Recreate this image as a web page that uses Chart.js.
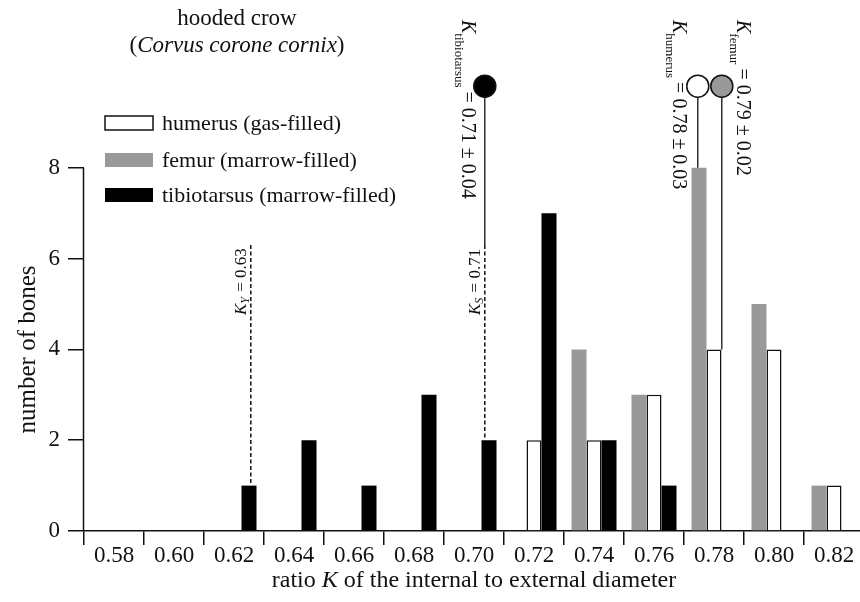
<!DOCTYPE html>
<html>
<head>
<meta charset="utf-8">
<script src="https://cdn.jsdelivr.net/npm/chart.js@4"></script>
<style>
  html, body { margin: 0; padding: 0; background: #fff; overflow: hidden; }
  #wrap { width: 864px; height: 602px; }
</style>
</head>
<body>
<div id="wrap"><canvas id="crow"></canvas></div>
<script>
// bins of the ratio K (internal / external diameter)
const binLabels = ["0.58", "0.60", "0.62", "0.64", "0.66", "0.68", "0.70", "0.72", "0.74", "0.76", "0.78", "0.80", "0.82"];
// number of bones per bin
const femurCounts = [0, 0, 0, 0, 0, 0, 0, 0, 4, 3, 8, 5, 1];
const humerusCounts = [0, 0, 0, 0, 0, 0, 0, 2, 2, 3, 4, 4, 1];
const tibiotarsusCounts = [0, 0, 1, 2, 1, 3, 2, 7, 2, 1, 0, 0, 0];
const yTicks = [0, 2, 4, 6, 8];

// mean K (± sd) per bone, and where the picture puts them on the bin axis
const meanNames = ["tibiotarsus", "humerus", "femur"];
const meanValues = ["0.71", "0.78", "0.79"];
const meanSds = ["0.04", "0.03", "0.02"];
const meanAt = [6.18, 9.73, 10.13];
// reference ratios K_Y and K_S
const refNames = ["Y", "S"];
const refValues = ["0.63", "0.71"];
const refAt = [2.28, 6.18];

const SERIF = "'Liberation Serif', 'Times New Roman', serif";
const f = (size, style) => (style ? style + " " : "") + size + "px " + SERIF;

function drawRuns(ctx, x, y, angle, runs) {
	ctx.save();
	ctx.translate(x, y);
	ctx.rotate(angle);
	ctx.textAlign = "left";
	ctx.textBaseline = "alphabetic";
	let cx = 0;
	for (const r of runs) {
		ctx.font = r.font;
		ctx.fillText(r.text, cx, r.dy || 0);
		cx += ctx.measureText(r.text).width + (r.gap || 0);
	}
	ctx.restore();
}

function runsWidth(ctx, runs) {
	let w = 0;
	for (const r of runs) {
		ctx.font = r.font;
		w += ctx.measureText(r.text).width + (r.gap || 0);
	}
	return w;
}

const overlay = {
	id: "overlay",
	afterDraw(chart) {
		const { ctx, chartArea, scales } = chart;
		const x = scales.x, y = scales.y;
		ctx.save();
		ctx.fillStyle = "#111";
		ctx.strokeStyle = "#111";

		// y axis line only from 0 to 8
		ctx.lineWidth = 1.5;
		ctx.beginPath();
		ctx.moveTo(chartArea.left - 0.5, y.getPixelForValue(0));
		ctx.lineTo(chartArea.left - 0.5, y.getPixelForValue(8));
		ctx.stroke();

		// title
		ctx.textAlign = "center";
		ctx.textBaseline = "middle";
		ctx.font = f(23);
		ctx.fillText("hooded crow", 237, 19);
		const sp = [
			{ text: "(", font: f(23) },
			{ text: "Corvus corone cornix", font: f(23, "italic") },
			{ text: ")", font: f(23) },
		];
		const spw = runsWidth(ctx, sp);
		drawRuns(ctx, 237 - spw / 2, 52, 0, sp);

		// legend
		const legendItems = [
			["humerus (gas-filled)", "#fff", 123],
			["femur (marrow-filled)", "#999", 160],
			["tibiotarsus (marrow-filled)", "#000", 195],
		];
		for (const [label, color, cy] of legendItems) {
			ctx.fillStyle = color;
			ctx.fillRect(105, cy - 7, 48, 14);
			if (color === "#fff") {
				ctx.lineWidth = 1.5;
				ctx.strokeRect(105, cy - 7, 48, 14);
			}
			ctx.fillStyle = "#111";
			ctx.font = f(22);
			ctx.textAlign = "left";
			ctx.textBaseline = "middle";
			ctx.fillText(label, 162, cy + 1);
		}

		// axis titles
		const xt = [
			{ text: "ratio ", font: f(24) },
			{ text: "K", font: f(24, "italic") },
			{ text: " of the internal to external diameter", font: f(24) },
		];
		const xtw = runsWidth(ctx, xt);
		drawRuns(ctx, (chartArea.left + chartArea.right) / 2 - xtw / 2, 587, 0, xt);
		ctx.save();
		ctx.translate(35, (y.getPixelForValue(0) + y.getPixelForValue(8)) / 2);
		ctx.rotate(-Math.PI / 2);
		ctx.font = f(25);
		ctx.textAlign = "center";
		ctx.textBaseline = "alphabetic";
		ctx.fillText("number of bones", 0, 0);
		ctx.restore();

		// reference lines K_Y and K_S (dashed, down to the bar top)
		const refBarTop = [tibiotarsusCounts[2], tibiotarsusCounts[6]];
		refAt.forEach((pos, i) => {
			const px = x.getPixelForValue(pos);
			ctx.lineWidth = 1.5;
			ctx.setLineDash([4, 2.5]);
			ctx.beginPath();
			ctx.moveTo(px, y.getPixelForValue(6.3));
			ctx.lineTo(px, y.getPixelForValue(refBarTop[i]));
			ctx.stroke();
			ctx.setLineDash([]);
			drawRuns(ctx, px - 5, y.getPixelForValue(6.3) + 70, -Math.PI / 2, [
				{ text: "K", font: f(17, "italic") },
				{ text: refNames[i], font: f(12, "italic"), dy: 3, gap: 1 },
				{ text: " = " + refValues[i], font: f(17) },
			]);
		});

		// mean markers: stem, circle, rotated label
		const stemEnd = [6.3, femurCounts[10], humerusCounts[10]];
		const fills = ["#000", "#fff", "#999"];
		const labelX = [-23, -25, 15];
		const markerY = y.getPixelForValue(9.8);
		meanAt.forEach((pos, i) => {
			const px = x.getPixelForValue(pos);
			ctx.lineWidth = 1.3;
			ctx.beginPath();
			ctx.moveTo(px, markerY);
			ctx.lineTo(px, y.getPixelForValue(stemEnd[i]));
			ctx.stroke();
			ctx.beginPath();
			ctx.arc(px, markerY, 11, 0, Math.PI * 2);
			ctx.fillStyle = fills[i];
			ctx.fill();
			ctx.lineWidth = 1.5;
			ctx.stroke();
			ctx.fillStyle = "#111";
			drawRuns(ctx, px + labelX[i], 20, Math.PI / 2, [
				{ text: "K", font: f(20, "italic") },
				{ text: meanNames[i], font: f(13), dy: 7, gap: 4 },
				{ text: "= " + meanValues[i] + " ± " + meanSds[i], font: f(20) },
			]);
		});
		ctx.restore();
	},
};

const ctx = document.getElementById("crow").getContext("2d");
const chart = new Chart(ctx, {
	type: "bar",
	data: {
		labels: binLabels,
		datasets: [
			{
				label: "femur (marrow-filled)",
				data: femurCounts,
				backgroundColor: "#999999",
				borderWidth: 0,
			},
			{
				label: "humerus (gas-filled)",
				data: humerusCounts,
				backgroundColor: "#ffffff",
				borderColor: "#111",
				borderWidth: 1.5,
			},
			{
				label: "tibiotarsus (marrow-filled)",
				data: tibiotarsusCounts,
				backgroundColor: "#000000",
				borderWidth: 0,
			},
		],
	},
	options: {
		responsive: true,
		maintainAspectRatio: false,
		animation: false,
		layout: { padding: { top: 9, right: 0, bottom: 0, left: 0 } },
		datasets: {
			bar: { categoryPercentage: 0.75, barPercentage: 1.0 },
		},
		plugins: {
			legend: { display: false },
			tooltip: { enabled: false },
		},
		scales: {
			x: {
				offset: true,
				grid: {
					offset: true,
					drawOnChartArea: false,
					drawTicks: true,
					tickLength: 14,
					color: "#111",
					lineWidth: 1.5,
				},
				border: { display: true, color: "#111", width: 1.5 },
				ticks: {
					font: { family: SERIF, size: 23 },
					color: "#111",
					padding: -3,
					maxRotation: 0,
					autoSkip: false,
				},
				afterFit: (scale) => {
					scale.height = 71;
					scale.paddingLeft = 0;
					scale.paddingRight = 0;
				},
			},
			y: {
				min: 0,
				max: 11.5,
				afterBuildTicks: (scale) => { scale.ticks = yTicks.map((v) => ({ value: v })); },
				grid: {
					drawOnChartArea: false,
					drawTicks: true,
					tickLength: 16,
					color: "#111",
					lineWidth: 1.5,
				},
				border: { display: false },
				ticks: {
					font: { family: SERIF, size: 23 },
					color: "#111",
					padding: 8,
				},
				afterFit: (scale) => {
					scale.width = 84;
					scale.paddingTop = 0;
					scale.paddingBottom = 0;
				},
			},
		},
	},
	plugins: [overlay],
});
</script>
</body>
</html>
